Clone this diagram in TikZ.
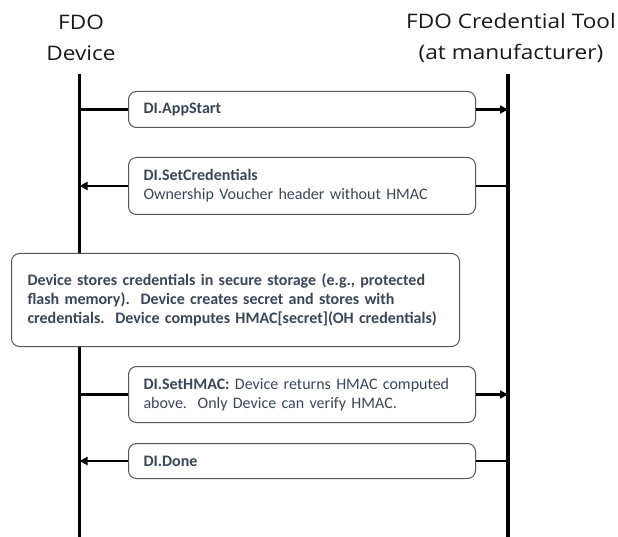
\documentclass[tikz,border=0pt]{standalone}
\usepackage{fontspec}
\setmainfont{Carlito}
\newfontfamily\titlefont[FakeStretch=1.13]{Open Sans}
\usetikzlibrary{arrows.meta}
\definecolor{txt}{HTML}{3B4659}
\definecolor{bord}{HTML}{555555}
\begin{document}
\begin{tikzpicture}[x=1pt,y=-1pt,
  lifeline/.style={line width=3.5pt,black},
  msgbox/.style={draw=bord,line width=1pt,rounded corners=8pt,fill=white,
    inner xsep=15pt,inner ysep=0pt,align=left,text=txt,font=\fontsize{16}{19}\selectfont,
    anchor=north west},
  title/.style={font=\titlefont\fontsize{20}{31}\selectfont,text=black!90,align=center},
  msg/.style={line width=2.2pt,black},
  msgarrow/.style={msg,-{Triangle[length=8pt,width=8pt]}}]
\useasboundingbox (0,0) rectangle (618,537);
% titles
\node[title] (t1) at (81,38) {FDO\\Device};
\node[title] (t2) at (511,38) {FDO Credential Tool\\(at manufacturer)};
% lifelines
\coordinate (l0) at (79.5,74);
\coordinate (l1) at (79.5,537);
\coordinate (r0) at (508,74);
\coordinate (r1) at (508,537);
\draw[lifeline] (l0) -- (l1);
\draw[lifeline] (r0) -- (r1);
% boxes
\node[msgbox,text width=317pt,minimum height=36pt] (b1) at (128,91)
  {\textbf{DI.AppStart}};
\node[msgbox,text width=317pt,minimum height=57pt] (b2) at (128,157)
  {\textbf{DI.SetCredentials}\\Ownership Voucher header without HMAC};
\node[msgbox,text width=416pt,minimum height=93pt,inner xsep=16pt,
  font=\fontsize{16}{19}\selectfont\bfseries] (b3) at (11,253)
  {Device stores credentials in secure storage (e.g., protected\\flash memory).\ \ Device creates secret and stores with\\credentials.\ \ Device computes HMAC[secret](OH credentials)};
\node[msgbox,text width=317pt,minimum height=56pt] (b4) at (128,366)
  {\textbf{DI.SetHMAC:} Device returns HMAC computed\\above.\ \ Only Device can verify HMAC.};
\node[msgbox,text width=317pt,minimum height=35pt] (b5) at (128,443)
  {\textbf{DI.Done}};
% connectors
\draw[msg] (b1.west -| l0) -- (b1.west);
\draw[msgarrow] (b1.east) -- (b1.east -| r0);
\draw[msg] (b2.east -| r0) -- (b2.east);
\draw[msgarrow] (b2.west) -- (b2.west -| l0);
\draw[msg] (b4.west -| l0) -- (b4.west);
\draw[msgarrow] (b4.east) -- (b4.east -| r0);
\draw[msg] (b5.east -| r0) -- (b5.east);
\draw[msgarrow] (b5.west) -- (b5.west -| l0);
\end{tikzpicture}
\end{document}
